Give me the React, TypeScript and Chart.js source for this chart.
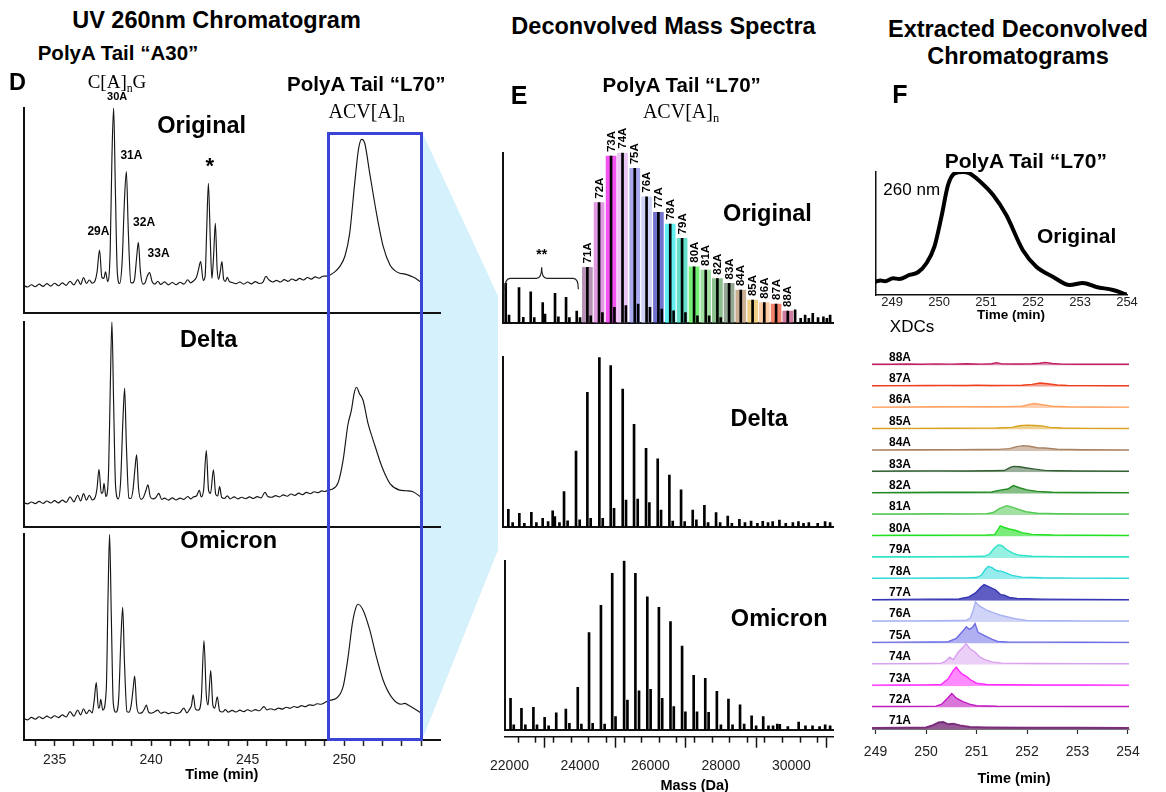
import React, { useEffect, useRef } from 'react';
import { Chart, registerables } from 'chart.js';

Chart.register(...registerables);
const SANS = "'Liberation Sans', Arial, Helvetica, sans-serif";
const SERIF = "'Liberation Serif', 'Times New Roman', Times, serif";
Chart.defaults.font.family = SANS;
Chart.defaults.color = '#111';

// ---------------- Panel D : UV 260 nm chromatograms (time [min], relative absorbance) ----------------
const D_ORIGINAL = [[233.4,13.5],[233.6,12.8],[233.8,13.9],[234.0,12.9],[234.2,14.2],[234.4,13.1],[234.6,14.4],[234.8,13.2],[235.0,14.6],[235.2,13.4],[235.4,14.8],[235.6,13.6],[235.8,15.6],[236.0,13.8],[236.2,16.4],[236.35,14.0],[236.5,17.4],[236.65,14.5],[236.8,16.2],[236.95,14.6],[237.1,15.8],[237.2,20],[237.33,30.8],[237.45,17.5],[237.55,17],[237.64,20.2],[237.75,15.5],[237.88,30],[237.97,75],[238.06,100],[238.15,60],[238.25,20],[238.37,14.5],[238.5,25],[238.62,55],[238.72,68.9],[238.82,40],[238.95,15],[239.05,14.8],[239.15,17],[239.25,27],[239.34,34.5],[239.45,20],[239.58,14.2],[239.7,15],[239.8,18],[239.92,19.8],[240.05,15.5],[240.2,14.2],[240.35,15.6],[240.5,14],[240.7,15.3],[240.9,13.8],[241.1,15],[241.3,13.9],[241.5,15.1],[241.7,14.2],[241.9,16.3],[242.05,14.8],[242.2,15.8],[242.35,17.5],[242.45,21],[242.57,25.1],[242.7,16],[242.8,18],[242.88,40],[242.97,63.2],[243.07,35],[243.15,17],[243.24,28],[243.33,43.8],[243.42,22],[243.5,16.5],[243.58,20],[243.67,25.1],[243.76,16.5],[243.85,15.5],[243.95,17.5],[244.05,15.5],[244.2,15],[244.4,14.4],[244.6,15.2],[244.8,14.2],[245.0,15.2],[245.2,14.3],[245.4,15.4],[245.6,14.5],[245.8,15.2],[245.95,18],[246.1,16.3],[246.3,15.2],[246.5,16.0],[246.7,15.2],[246.9,16.4],[247.1,15.5],[247.3,16.7],[247.5,15.9],[247.7,17.0],[247.9,16.2],[248.1,17.4],[248.3,16.6],[248.5,17.7],[248.7,17.1],[248.9,18.0],[249.07,18.1],[249.3,18.8],[249.5,20],[249.77,22.7],[250.05,28],[250.29,38.9],[250.55,63.2],[250.75,80],[250.91,84.6],[251.07,82.7],[251.33,68.1],[251.68,48.6],[252.03,32.4],[252.38,23.5],[252.6,21],[252.88,19.5],[253.1,19.2],[253.3,18.7],[253.6,17.5],[253.96,15.4]];

const D_DELTA = [[233.4,12.0],[233.6,11.4],[233.8,12.3],[234.0,11.5],[234.2,12.6],[234.4,11.6],[234.6,12.8],[234.8,11.8],[235.0,13.0],[235.2,11.9],[235.4,13.2],[235.6,12.1],[235.8,14.8],[236.0,12.4],[236.2,15.6],[236.35,12.8],[236.5,16.4],[236.65,13.2],[236.8,15.6],[236.95,13.3],[237.1,14.5],[237.2,19],[237.3,28.2],[237.42,16.5],[237.5,17],[237.56,21.4],[237.66,15],[237.8,28],[237.89,70],[237.97,100],[238.06,60],[238.16,20],[238.3,13.8],[238.42,22],[238.54,52],[238.63,67.6],[238.72,40],[238.85,14.2],[238.95,14],[239.06,18],[239.16,28],[239.25,35.2],[239.35,19],[239.48,13.6],[239.6,14.5],[239.72,17.5],[239.84,20.6],[239.96,14.8],[240.1,13.8],[240.25,14.5],[240.4,16.5],[240.55,13.6],[240.7,14.2],[240.9,13.2],[241.1,14.3],[241.3,13.3],[241.5,14.2],[241.7,13.6],[241.9,15],[242.05,13.8],[242.2,14.8],[242.35,15.2],[242.5,18],[242.6,14.8],[242.72,18],[242.86,37.3],[242.98,18],[243.08,16.5],[243.23,27.9],[243.35,16],[243.45,15.2],[243.55,19.8],[243.66,14.5],[243.8,14],[243.95,15.3],[244.1,13.8],[244.3,14.8],[244.5,13.8],[244.7,14.6],[244.9,13.9],[245.1,14.8],[245.3,14],[245.5,14.9],[245.7,14.3],[245.9,17],[246.05,15],[246.25,14.6],[246.45,15.4],[246.65,14.8],[246.85,15.8],[247.05,15.1],[247.25,16.2],[247.45,15.5],[247.65,16.6],[247.85,15.9],[248.05,17],[248.25,16.3],[248.45,17.3],[248.65,16.8],[248.85,17.7],[249.0,17.4],[249.17,18.1],[249.4,18.6],[249.7,22],[249.95,32.7],[250.2,50],[250.38,57],[250.52,65],[250.64,68.1],[250.8,65],[250.98,61.9],[251.24,50.6],[251.45,44],[251.67,37.6],[251.9,31],[252.1,26.3],[252.4,21],[252.88,18.1],[253.2,17.8],[253.57,17.3],[253.95,14.9]];

const D_OMICRON = [[233.4,10.5],[233.6,9.8],[233.8,11],[234.0,10.1],[234.2,11.3],[234.4,10.4],[234.6,11.6],[234.8,10.6],[235.0,11.8],[235.2,10.9],[235.4,12.2],[235.6,11.2],[235.8,13.8],[236.0,11.6],[236.2,14.6],[236.35,12.2],[236.5,15.2],[236.65,12.8],[236.8,14.5],[236.95,13.2],[237.05,19],[237.16,27.9],[237.27,15.5],[237.33,16],[237.39,19.8],[237.5,14.5],[237.68,25],[237.77,70],[237.85,100],[237.94,60],[238.04,18],[238.18,13.5],[238.32,20],[238.44,50],[238.53,64.5],[238.62,38],[238.75,13.8],[238.85,13.5],[238.97,17],[239.07,25],[239.15,31.1],[239.25,17],[239.38,13],[239.55,13.5],[239.65,15],[239.75,17],[239.87,13.5],[240.0,13],[240.15,13.5],[240.35,14.5],[240.5,13],[240.7,13.6],[240.9,12.8],[241.1,13.5],[241.3,12.9],[241.5,13.4],[241.7,15.5],[241.85,13.2],[242.0,15],[242.1,17],[242.18,22],[242.3,15],[242.45,14.5],[242.6,20],[242.74,48.3],[242.86,22],[242.95,17],[243.09,33.7],[243.2,17],[243.3,15.5],[243.43,21],[243.55,14.2],[243.7,13.6],[243.85,14.8],[244.0,13.5],[244.2,14.4],[244.4,13.6],[244.6,14.5],[244.8,13.8],[245.0,14.7],[245.2,14],[245.4,14.8],[245.6,14.2],[245.85,16.2],[246.0,14.6],[246.2,15.2],[246.4,14.6],[246.6,15.5],[246.8,15],[247.0,15.9],[247.2,15.4],[247.4,16.3],[247.6,15.8],[247.8,16.7],[248.0,16.2],[248.2,17.1],[248.4,16.8],[248.6,17.6],[248.8,17.4],[249.0,18.2],[249.17,19.1],[249.6,20.3],[249.95,25.9],[250.21,40.5],[250.43,56.7],[250.6,64],[250.72,66],[250.98,63.2],[251.33,53.5],[251.67,40.5],[252.02,29.2],[252.45,21],[252.97,17.4],[253.15,17.8],[253.32,17],[253.96,13.3]];

// peak annotations of the "Original" trace: [label, time, level, font size]
const D_PEAK_LABELS = [['30A',238.24,105.1,11],['31A',238.98,76.6,12],['29A',237.27,39.6,12],['32A',239.64,44.2,12],['33A',240.39,28.8,12],['*',243.04,71.4,22]];
const D_TIME_MIN = 233.4, D_TIME_MAX = 254.97;

// ---------------- Panel E : deconvolved mass spectra (mass [Da], relative intensity) ----------------
const E_LABELS = ['71A','72A','73A','74A','75A','76A','77A','78A','79A','80A','81A','82A','83A','84A','85A','86A','87A','88A'];
const E_ORIG_MASS = [24257,24586,24925,25248,25593,25926,26259,26593,26927,27265,27594,27922,28252,28582,28915,29244,29577,29907];
const E_ORIG_HEIGHT = [32.5,70.6,98,100,90.8,74.1,64.9,58,49.6,32.9,31,25.9,23.1,19.2,13.3,11.8,11,6.9];
const E_ORIG_OTHER = [[21955,23.2],[22048,4.5],[22330,20.6],[22451,3.2],[22660,18.2],[22760,3],[22998,11.8],[23063,5],[23345,17.3],[23440,3.5],[23656,14.9],[23750,3],[23957,6.9],[24050,3],[24352,4],[24681,6],[25020,9],[25343,10],[25688,11],[26021,9],[26354,8],[26688,7],[27022,6],[27360,4],[27689,4],[28017,3],[30113,7.5],[30270,2.5],[30395,4.5],[30500,2.5],[30611,5.5],[30760,3],[30911,3.5],[31010,2.5],[31100,4.5]];
const E_DELTA = [[22029,10.2],[22150,2.5],[22339,7.9],[22480,2],[22678,8.5],[22820,2.5],[22997,4.9],[23150,3],[23279,9.4],[23340,6],[23470,2.5],[23599,20.7],[23700,3.5],[23937,44.7],[24040,4],[24257,79.3],[24350,5],[24595,100],[24690,5],[24915,95.1],[25009,10.8],[25253,81.3],[25347,15.7],[25573,60.4],[25676,16.3],[25911,46.3],[26005,14.2],[26240,40],[26334,9.8],[26569,30.5],[26663,3.3],[26898,21.7],[27000,3],[27227,9.8],[27330,4],[27556,12.6],[27660,2.5],[27885,8.3],[28000,2.5],[28214,6.3],[28330,2],[28543,4.3],[28700,2.5],[28872,3.3],[29050,2],[29201,3.1],[29350,2.5],[29480,3],[29671,3.9],[29850,2],[30050,2.5],[30207,3],[30350,2],[30500,2.5],[30750,2],[30959,3],[31100,2.5]];
const E_OMICRON = [[22029,18.7],[22120,3],[22339,12.8],[22450,3],[22678,13.4],[22780,3],[22997,7.5],[23110,2.5],[23326,10.2],[23599,12.4],[23700,4],[23937,25.2],[24040,3.5],[24257,57.5],[24360,4],[24595,73.6],[24700,3.5],[24915,92.5],[25009,7.9],[25253,100],[25347,17.7],[25573,92.5],[25676,23.2],[25911,78.7],[26005,24],[26240,72.4],[26334,18.7],[26569,64],[26663,13.8],[26898,49.6],[26992,10.8],[27227,32.3],[27322,10.8],[27556,30.5],[27651,10.4],[27885,22.8],[28000,3],[28214,18.3],[28330,3],[28543,14.8],[28660,3.5],[28872,8.3],[29000,2.5],[29201,7.9],[29350,2.5],[29480,2.5],[29600,3.5],[29671,3.3],[29900,2],[30207,4.7],[30400,2.5],[30600,2.5],[30800,2],[30959,3],[31100,2.5]];
const E_BAR_COLORS = ['rgba(150,100,150,0.7)','rgba(215,120,215,0.75)','rgba(240,40,240,0.8)','rgba(225,180,240,0.75)','rgba(140,140,235,0.75)','rgba(195,200,245,0.8)','rgba(80,80,195,0.8)','rgba(60,235,235,0.8)','rgba(60,215,190,0.8)','rgba(80,235,80,0.8)','rgba(140,215,140,0.8)','rgba(110,175,110,0.8)','rgba(120,145,120,0.8)','rgba(190,155,120,0.8)','rgba(235,195,100,0.8)','rgba(250,190,140,0.8)','rgba(240,100,70,0.8)','rgba(190,80,130,0.75)'];
const E_BRACE = [21935, 24002];
const E_BRACE_LEVEL = 26.1, E_STARS_LEVEL = 40;
const E_MASS_MIN = 21870, E_MASS_MAX = 31190;
const E_MAJOR_TICKS = [22000, 24000, 26000, 28000, 30000];
const E_MINOR_TICKS = [22000,22500,23000,23500,24000,24500,25000,25500,26000,26500,27000,27500,28000,28500,29000,29500,30000,30500,31000];

// ---------------- Panel F : 260 nm trace and extracted deconvolved chromatograms ----------------
const F_UV260 = [[248.65,10.8],[248.75,11.8],[248.85,11.2],[249.02,13.6],[249.15,13.0],[249.37,16.3],[249.55,18.5],[249.73,25.8],[249.9,39.3],[250.05,63.7],[250.19,89.4],[250.33,98.9],[250.51,100],[250.65,98.9],[250.86,92.7],[251.15,81.3],[251.43,65],[251.78,36.6],[252.07,23],[252.42,14.9],[252.78,8.1],[253.06,9.8],[253.35,6.5],[253.7,4.1],[253.98,0.5]];

const XDC_LABELS = ['71A','72A','73A','74A','75A','76A','77A','78A','79A','80A','81A','82A','83A','84A','85A','86A','87A','88A'];
const XDC_71A = [[248.93,5],[249.6,5.5],[250.0,7],[250.11,15],[250.25,30],[250.34,33],[250.44,22],[250.54,25],[250.67,17],[250.87,9],[251.2,7],[252.0,6],[253.0,5.5],[254.02,5]];
const XDC_72A = [[248.93,5],[249.5,5.5],[250.0,6],[250.2,7],[250.31,16],[250.44,47],[250.51,66],[250.6,44],[250.73,28],[250.86,16],[251.0,9],[251.4,6.5],[252.0,6],[253.0,5.5],[254.02,5]];
const XDC_73A = [[248.93,5],[249.5,6],[250.0,6.5],[250.3,8],[250.44,35],[250.54,74],[250.6,89],[250.66,70],[250.71,58],[250.8,46],[250.9,27],[251.0,14],[251.2,8],[251.6,7],[252.3,6],[253.0,5.5],[254.02,5]];
const XDC_74A = [[248.93,5],[249.5,5.5],[250.0,6],[250.3,7],[250.38,16],[250.47,36],[250.54,24],[250.64,60],[250.74,83],[250.79,100],[250.87,75],[250.97,60],[251.07,36],[251.17,24],[251.3,14],[251.5,8],[252.2,6],[253.0,5.5],[254.02,5]];
const XDC_75A = [[248.93,5],[249.5,6],[250.1,6.5],[250.44,8],[250.6,24],[250.73,58],[250.8,78],[250.86,66],[250.92,75],[250.97,93],[251.03,52],[251.16,36],[251.3,20],[251.42,9],[251.6,7],[252.2,6],[253.0,5.5],[254.02,5]];
const XDC_76A = [[248.93,5],[249.6,5.5],[250.2,6],[250.6,7],[250.8,8],[250.88,20],[250.94,60],[250.98,95],[251.03,80],[251.08,72],[251.2,56],[251.33,44],[251.46,33],[251.6,25],[251.8,14],[252.0,8],[252.5,6],[253.2,5.5],[254.02,5]];
const XDC_77A = [[248.93,5],[249.5,6],[250.0,7],[250.5,6.5],[250.65,8],[250.85,18],[250.98,36],[251.08,62],[251.15,75],[251.25,65],[251.38,50],[251.48,28],[251.55,26],[251.65,15],[251.8,10],[252.3,7],[253.0,6],[254.02,5]];
const XDC_78A = [[248.93,5],[249.6,5.5],[250.3,6],[250.8,6.5],[251.0,8],[251.1,20],[251.18,48],[251.23,60],[251.3,55],[251.4,40],[251.48,38],[251.58,30],[251.7,18],[251.9,10],[252.3,7],[253.0,5.5],[254.02,5]];
const XDC_79A = [[248.93,5],[249.6,5.5],[250.3,6],[250.9,6.5],[251.15,7.5],[251.25,16],[251.35,45],[251.43,60],[251.5,58],[251.6,38],[251.72,22],[251.85,12],[252.1,8],[252.6,6],[253.3,5.5],[254.02,5]];
const XDC_80A = [[248.93,5],[249.5,5.5],[250.2,6],[250.8,6.5],[251.2,7],[251.36,9],[251.42,30],[251.47,50],[251.55,42],[251.65,35],[251.78,28],[251.9,18],[252.1,10],[252.5,7],[253.2,5.5],[254.02,5]];
const XDC_81A = [[248.93,5],[249.5,5.5],[250.2,6.5],[250.8,6],[251.2,7],[251.33,12],[251.45,30],[251.6,44],[251.72,36],[251.85,25],[251.98,16],[252.2,9],[252.6,6.5],[253.2,5.5],[254.02,5]];
const XDC_82A = [[248.93,5],[249.6,6],[250.3,7],[250.9,7],[251.3,8],[251.5,18],[251.62,22],[251.73,38],[251.85,28],[252.0,18],[252.2,11],[252.5,7],[253.0,6],[254.02,5]];
const XDC_83A = [[248.93,5],[249.5,6],[250.2,7],[250.8,6.5],[251.3,7.5],[251.55,8.5],[251.68,24],[251.74,28],[251.85,26],[252.0,20],[252.15,15],[252.35,9],[252.6,7.5],[253.0,6],[254.02,5]];
const XDC_84A = [[248.93,5],[249.8,5.5],[250.6,6],[251.1,7],[251.45,7.5],[251.65,11],[251.8,20],[251.93,25],[252.05,22],[252.2,15],[252.35,14],[252.6,8],[253.1,5.5],[254.02,5]];
const XDC_85A = [[248.93,5],[249.8,5.5],[250.5,6],[251.0,6.5],[251.4,7],[251.7,10],[251.85,18],[252.0,20.5],[252.15,19],[252.3,17],[252.45,10],[252.7,7],[253.2,5.5],[254.02,5]];
const XDC_86A = [[248.93,5],[249.6,5.5],[250.2,6.5],[250.7,7],[251.2,6.5],[251.6,7],[251.9,9],[252.05,17],[252.14,22],[252.3,16],[252.5,9],[252.8,6.5],[253.3,5.5],[254.02,5]];
const XDC_87A = [[248.93,5],[249.5,5.5],[250.0,6],[250.4,6.5],[250.8,6],[251.0,7.5],[251.3,6],[251.6,6.5],[251.9,7],[252.1,11],[252.26,17.5],[252.4,14],[252.6,8],[252.8,6],[253.2,5.5],[253.6,5],[254.02,5]];
const XDC_88A = [[248.93,5],[249.3,5.5],[249.6,6.5],[249.9,5.5],[250.2,7],[250.5,6],[250.8,7.5],[251.1,6],[251.3,7.5],[251.4,13],[251.5,7],[251.8,6.5],[252.1,7.5],[252.25,10],[252.36,14],[252.5,9],[252.7,6],[253.0,5.5],[253.4,5],[253.8,5],[254.02,5]];
const XDC_TRACES = [XDC_71A,XDC_72A,XDC_73A,XDC_74A,XDC_75A,XDC_76A,XDC_77A,XDC_78A,XDC_79A,XDC_80A,XDC_81A,XDC_82A,XDC_83A,XDC_84A,XDC_85A,XDC_86A,XDC_87A,XDC_88A];
const XDC_COLORS = ['#7b2d7b','#c21ac2','#ff2cff','#d9a0f0','#6e6ee6','#a9b2f2','#3535b5','#2ed9d9','#2fe3c8','#22e022','#55c955','#228a22','#335f33','#a98262','#d9a21e','#ffa262','#ef3f1f','#c0205f'];
const XDC_FILL_ALPHA = [0.8,0.6,0.55,0.5,0.55,0.55,0.8,0.5,0.5,0.6,0.55,0.55,0.5,0.5,0.5,0.5,0.5,0.5];

// ---------------- helpers ----------------
const pts = (arr: number[][]) => arr.map(([x, y]) => ({ x, y }));
const hexA = (hex: string, a: number) => {
  const n = parseInt(hex.slice(1), 16);
  return `rgba(${(n >> 16) & 255},${(n >> 8) & 255},${n & 255},${a})`;
};
const BASE = {
  responsive: false,
  animation: false,
  events: [],
  plugins: { legend: { display: false }, tooltip: { enabled: false } },
};
const hiddenAxisY = (extra: any = {}) => ({
  type: 'linear', min: 0, max: 100, display: true,
  ticks: { display: false }, grid: { display: false, drawTicks: false },
  border: { display: true, color: '#111', width: 2 },
  afterFit: (s: any) => { s.width = 0; },
  ...extra,
});
const bareAxisX = (min: number, max: number, extra: any = {}) => ({
  type: 'linear', min, max, offset: false, display: true,
  ticks: { display: false }, grid: { display: false, drawTicks: false },
  border: { display: true, color: '#111', width: 2 },
  afterFit: (s: any) => { s.height = 0; },
  ...extra,
});

const peakLabelPlugin = (items: any[]) => ({
  id: 'peakLabels',
  afterDatasetsDraw(chart: any) {
    const { ctx } = chart;
    const xs = chart.scales.x, ys = chart.scales.y;
    ctx.save();
    ctx.fillStyle = '#000';
    ctx.textAlign = 'center';
    ctx.textBaseline = 'middle';
    for (const [text, t, v, size] of items) {
      ctx.font = `bold ${size}px ${SANS}`;
      ctx.fillText(text, xs.getPixelForValue(t), ys.getPixelForValue(v));
    }
    ctx.restore();
  },
});

const ladderPlugin = {
  id: 'ladderLabels',
  afterDatasetsDraw(chart: any) {
    const { ctx } = chart;
    const xs = chart.scales.x, ys = chart.scales.y;
    ctx.save();
    ctx.fillStyle = '#000';
    ctx.font = `bold 11.5px ${SANS}`;
    ctx.textAlign = 'left';
    ctx.textBaseline = 'middle';
    E_LABELS.forEach((lab, i) => {
      const px = xs.getPixelForValue(E_ORIG_MASS[i]);
      const py = ys.getPixelForValue(E_ORIG_HEIGHT[i]) - 4;
      ctx.save();
      ctx.translate(px + 0.5, py);
      ctx.rotate(-Math.PI / 2);
      ctx.fillText(lab, 0, 0);
      ctx.restore();
    });
    const x1 = xs.getPixelForValue(E_BRACE[0]);
    const x2 = xs.getPixelForValue(E_BRACE[1]);
    const xm = (x1 + x2) / 2;
    const y = ys.getPixelForValue(E_BRACE_LEVEL);
    ctx.beginPath();
    ctx.lineWidth = 1.2;
    ctx.strokeStyle = '#222';
    ctx.moveTo(x1, y + 11);
    ctx.quadraticCurveTo(x1, y, x1 + 5, y);
    ctx.lineTo(xm - 5, y);
    ctx.quadraticCurveTo(xm, y, xm, y - 11);
    ctx.quadraticCurveTo(xm, y, xm + 5, y);
    ctx.lineTo(x2 - 5, y);
    ctx.quadraticCurveTo(x2, y, x2, y + 11);
    ctx.stroke();
    ctx.font = `bold 14px ${SANS}`;
    ctx.textAlign = 'center';
    ctx.fillText('**', xm, ys.getPixelForValue(E_STARS_LEVEL));
    ctx.restore();
  },
};

const xdcLabelPlugin = {
  id: 'xdcLabels',
  afterDatasetsDraw(chart: any) {
    const { ctx, chartArea } = chart;
    ctx.save();
    ctx.font = `bold 12px ${SANS}`;
    ctx.fillStyle = '#000';
    ctx.textAlign = 'left';
    ctx.textBaseline = 'middle';
    XDC_LABELS.forEach((lab) => {
      const s = chart.scales['y' + lab];
      ctx.fillText(lab, chartArea.left + 17, s.bottom - 8);
    });
    ctx.restore();
  },
};

// ---------------- chart configs ----------------
const dTrace = (data: number[][]) => ({
  data: pts(data), borderColor: '#161616', borderWidth: 1.15, pointRadius: 0,
  cubicInterpolationMode: 'monotone', fill: false,
});

const makeD = (data: number[][], pad: any, bottomAxis: boolean, plugins: any[] = []) => () => ({
  type: 'line',
  data: { datasets: [dTrace(data)] },
  options: {
    ...BASE,
    layout: { padding: pad, autoPadding: false },
    scales: {
      x: bottomAxis
        ? {
            type: 'linear', min: D_TIME_MIN, max: D_TIME_MAX, offset: false,
            ticks: {
              stepSize: 1, includeBounds: false, autoSkip: false, maxRotation: 0, maxTicksLimit: 1000,
              font: { size: 14 }, color: '#222', padding: 5.5,
              callback: (v: number) => (Math.round(v) % 5 === 0 ? String(Math.round(v)) : ''),
            },
            grid: { display: true, drawOnChartArea: false, drawTicks: true, tickLength: 6, tickWidth: 1.5, tickColor: '#222' },
            border: { display: true, color: '#111', width: 2 },
            afterFit: (s: any) => { s.height = 52; },
          }
        : bareAxisX(D_TIME_MIN, D_TIME_MAX),
      y: hiddenAxisY(),
    },
  },
  plugins,
});

const stick = (data: number[][]) => ({
  data: pts(data), backgroundColor: '#000', barThickness: 2, grouped: false, order: 1,
});

const makeE1 = () => ({
  type: 'bar',
  data: {
    datasets: [
      {
        data: E_ORIG_MASS.map((m, i) => ({ x: m, y: E_ORIG_HEIGHT[i] })),
        backgroundColor: E_BAR_COLORS, barThickness: 10, grouped: false, order: 2,
      },
      stick(E_ORIG_MASS.map((m, i) => [m, E_ORIG_HEIGHT[i]]).concat(E_ORIG_OTHER)),
    ],
  },
  options: {
    ...BASE,
    layout: { padding: { left: 22.7, right: 16.7, top: 37.7, bottom: 4.3 }, autoPadding: false },
    scales: { x: bareAxisX(E_MASS_MIN, E_MASS_MAX), y: hiddenAxisY() },
  },
  plugins: [ladderPlugin],
});

const makeE2 = () => ({
  type: 'bar',
  data: { datasets: [stick(E_DELTA)] },
  options: {
    ...BASE,
    layout: { padding: { left: 22.7, right: 16.7, top: 27.3, bottom: 3.3 }, autoPadding: false },
    scales: { x: bareAxisX(E_MASS_MIN, E_MASS_MAX), y: hiddenAxisY() },
  },
});

const makeE3 = () => ({
  type: 'bar',
  data: { datasets: [{ ...stick(E_OMICRON), xAxisID: 'x' }] },
  options: {
    ...BASE,
    layout: { padding: { left: 22.7, right: 16.7, top: 27.7, bottom: 0 }, autoPadding: false },
    scales: {
      xb: bareAxisX(E_MASS_MIN, E_MASS_MAX, { position: 'bottom', weight: 0, afterFit: (s: any) => { s.height = 6.7; } }),
      xm: {
        type: 'linear', position: 'bottom', weight: 1, min: E_MASS_MIN, max: E_MASS_MAX, offset: false,
        ticks: { display: false, autoSkip: false },
        afterBuildTicks: (s: any) => { s.ticks = E_MINOR_TICKS.map((v) => ({ value: v })); },
        grid: { display: true, drawOnChartArea: false, drawTicks: true, tickLength: 6, tickWidth: 1.5, tickColor: '#111' },
        border: { display: false },
        afterFit: (s: any) => { s.height = 0; },
      },
      x: {
        type: 'linear', position: 'bottom', weight: 2, min: E_MASS_MIN, max: E_MASS_MAX, offset: false,
        ticks: {
          autoSkip: false, maxRotation: 0,
          font: { size: 14 }, color: '#222', padding: 9.7, callback: (v: number) => String(v),
        },
        afterBuildTicks: (s: any) => { s.ticks = E_MAJOR_TICKS.map((v) => ({ value: v })); },
        grid: { display: true, drawOnChartArea: false, drawTicks: true, tickLength: 11, tickWidth: 1.5, tickColor: '#111' },
        border: { display: true, color: '#111', width: 1.5 },
        afterFit: (s: any) => { s.height = 55.3; },
      },
      y: hiddenAxisY(),
    },
  },
});

const makeFTop = () => ({
  type: 'line',
  data: {
    datasets: [{
      data: pts(F_UV260), borderColor: '#000', borderWidth: 4, pointRadius: 0,
      cubicInterpolationMode: 'monotone', borderCapStyle: 'round', borderJoinStyle: 'round', fill: false,
    }],
  },
  options: {
    ...BASE,
    layout: { padding: { left: 15.7, right: 23, top: 12, bottom: 0 }, autoPadding: false },
    scales: {
      x: {
        type: 'linear', min: 248.65, max: 254.0, offset: false,
        ticks: { stepSize: 1, includeBounds: false, autoSkip: false, maxRotation: 0, maxTicksLimit: 1000, font: { size: 13 }, color: '#222', padding: 0 },
        grid: { display: false, drawTicks: false },
        border: { display: true, color: '#111', width: 1.5 },
        afterFit: (s: any) => { s.height = 25; },
      },
      y: hiddenAxisY({ border: { display: true, color: '#111', width: 1.5 } }),
    },
  },
});

const makeXDC = () => {
  const scales: any = {
    x: {
      type: 'linear', min: 248.93, max: 254.02, offset: false,
      ticks: { stepSize: 1, includeBounds: false, autoSkip: false, maxRotation: 0, maxTicksLimit: 1000, font: { size: 14 }, color: '#222', padding: 10 },
      grid: { display: true, drawOnChartArea: false, drawTicks: true, tickLength: 5, tickWidth: 1.2, tickColor: '#333' },
      border: { display: true, color: '#777', width: 1 },
      afterFit: (s: any) => { s.height = 63; },
    },
  };
  XDC_LABELS.forEach((lab) => {
    scales['y' + lab] = {
      type: 'linear', position: 'left', stack: 'xdc', stackWeight: 1, min: 0, max: 100, display: true,
      ticks: { display: false }, grid: { display: false, drawTicks: false }, border: { display: false },
      afterFit: (s: any) => { s.width = 0; },
    };
  });
  return {
    type: 'line',
    data: {
      datasets: XDC_TRACES.map((tr, i) => ({
        data: pts(tr), yAxisID: 'y' + XDC_LABELS[i], xAxisID: 'x',
        borderColor: XDC_COLORS[i], backgroundColor: hexA(XDC_COLORS[i], XDC_FILL_ALPHA[i]),
        fill: 'origin', borderWidth: i === 0 ? 2 : 1.4, pointRadius: 0, tension: 0,
      })),
    },
    options: {
      ...BASE,
      layout: { padding: { left: 22, right: 31, top: 9, bottom: 0 }, autoPadding: false },
      scales,
    },
    plugins: [xdcLabelPlugin],
  };
};

// ---------------- components ----------------
function ChartCanvas({ left, top, width, height, make }: any) {
  const ref = useRef<HTMLCanvasElement>(null);
  useEffect(() => {
    const chart = new Chart(ref.current as HTMLCanvasElement, make());
    return () => chart.destroy();
  }, []);
  return (
    <canvas ref={ref} width={width} height={height}
      style={{ position: 'absolute', left, top, width, height }} />
  );
}

function T({ x, y, size, bold = true, serif = false, children }: any) {
  return (
    <div style={{
      position: 'absolute', left: x, top: y, transform: 'translate(-50%, -50%)',
      fontSize: size, fontWeight: bold ? 700 : 400, fontFamily: serif ? SERIF : SANS,
      lineHeight: 1, whiteSpace: 'nowrap', color: '#000',
    }}>{children}</div>
  );
}
const Sub = ({ children }: any) => (
  <span style={{ fontSize: '0.62em', position: 'relative', top: '0.32em' }}>{children}</span>
);

export default function App() {
  return (
    <div style={{ position: 'absolute', left: 0, top: 0, width: 1166, height: 792, background: '#fff', overflow: 'hidden', fontFamily: SANS }}>
      {/* zoom fan from the L70 region of D to panel E */}
      <div style={{
        position: 'absolute', left: 422, top: 130, width: 78, height: 612, background: '#d4f1fc',
        clipPath: 'polygon(0px 2px, 76px 166px, 76px 420px, 0px 610px)',
      }} />

      {/* Panel D */}
      <ChartCanvas left={0} top={85} width={460} height={232} make={makeD(D_ORIGINAL, { left: 23.7, right: 20, top: 22.7, bottom: 3.7 }, false, [peakLabelPlugin(D_PEAK_LABELS)])} />
      <ChartCanvas left={0} top={317} width={460} height={214} make={makeD(D_DELTA, { left: 23.7, right: 20, top: 4.7, bottom: 3.7 }, false)} />
      <ChartCanvas left={0} top={531} width={460} height={261} make={makeD(D_OMICRON, { left: 23.7, right: 20, top: 3.3, bottom: 0 }, true)} />
      <div style={{ position: 'absolute', left: 326.8, top: 131.8, width: 96, height: 609, border: '3.2px solid #3a44d6', boxSizing: 'border-box' }} />

      <T x={216.5} y={21} size={23.5}>UV 260nm Chromatogram</T>
      <T x={118} y={52.5} size={20.5}>PolyA Tail “A30”</T>
      <T x={17.5} y={83.3} size={23.5}>D</T>
      <T x={117} y={81} size={19} bold={false} serif>C[A]<Sub>n</Sub>G</T>
      <T x={366.3} y={84} size={20.5}>PolyA Tail “L70”</T>
      <T x={366.7} y={111} size={20} bold={false} serif>ACV[A]<Sub>n</Sub></T>
      <T x={201.7} y={126} size={23.5}>Original</T>
      <T x={208.7} y={339.5} size={23.5}>Delta</T>
      <T x={228.7} y={541} size={23.5}>Omicron</T>
      <T x={221.8} y={773.5} size={14.5}>Time (min)</T>

      {/* Panel E */}
      <ChartCanvas left={480} top={115} width={370} height={212} make={makeE1} />
      <ChartCanvas left={480} top={330} width={370} height={200} make={makeE2} />
      <ChartCanvas left={480} top={533} width={370} height={259} make={makeE3} />

      <T x={663.5} y={27} size={23.5}>Deconvolved Mass Spectra</T>
      <T x={519} y={94.5} size={25}>E</T>
      <T x={681.7} y={85} size={20.5}>PolyA Tail “L70”</T>
      <T x={681} y={111} size={20} bold={false} serif>ACV[A]<Sub>n</Sub></T>
      <T x={767.5} y={214} size={23.5}>Original</T>
      <T x={759.2} y={419} size={23.5}>Delta</T>
      <T x={779.2} y={619} size={23.5}>Omicron</T>
      <T x={694.7} y={784.5} size={14.5}>Mass (Da)</T>

      {/* Panel F */}
      <ChartCanvas left={860} top={160} width={290} height={160} make={makeFTop} />
      <ChartCanvas left={850} top={335} width={310} height={457} make={makeXDC} />

      <T x={1018} y={30} size={23.5}>Extracted Deconvolved</T>
      <T x={1018} y={57} size={23.5}>Chromatograms</T>
      <T x={900} y={94} size={25}>F</T>
      <T x={1025.8} y={160} size={21}>PolyA Tail “L70”</T>
      <T x={911.7} y={189} size={17} bold={false}>260 nm</T>
      <T x={1076.7} y={235} size={21}>Original</T>
      <T x={1011} y={315} size={13.5}>Time (min)</T>
      <T x={912} y={326} size={17} bold={false}>XDCs</T>
      <T x={1014} y={778.3} size={14.5}>Time (min)</T>
    </div>
  );
}
